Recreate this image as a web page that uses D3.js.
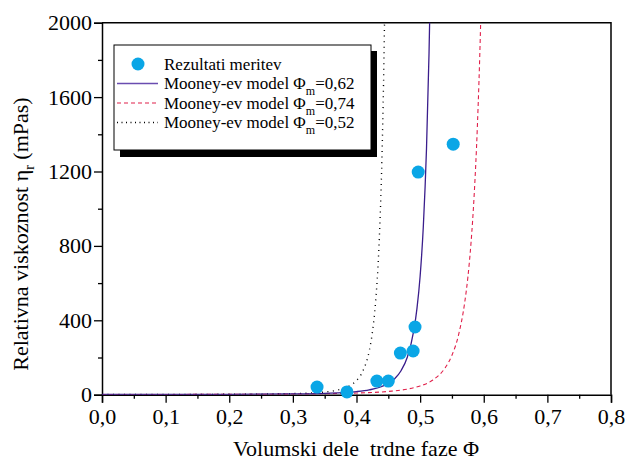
<!DOCTYPE html>
<html>
<head>
<meta charset="utf-8">
<script src="https://cdn.jsdelivr.net/npm/d3@7"></script>
<style>
 body { margin:0; background:#fff; }
</style>
</head>
<body>
<svg id="chart" width="625" height="464"></svg>
<script>
// measured points
var phiMeas = [0.338, 0.385, 0.432, 0.450, 0.469, 0.489, 0.492, 0.497, 0.552];
var etaMeas = [41, 15, 73, 73, 224, 235, 364, 1197, 1347];

// Mooney curves
var phi062 = [0, 0.1, 0.2, 0.3, 0.35, 0.4, 0.42, 0.44, 0.46, 0.47, 0.48, 0.49, 0.495, 0.5, 0.505, 0.51, 0.514, 0.516];
var eta062 = [1, 1.4, 2.1, 4.3, 7.5, 16.7, 26, 44, 86, 129, 203, 344, 463, 637, 903, 1321, 1837, 2188];

var phi074 = [0, 0.1, 0.2, 0.3, 0.35, 0.4, 0.45, 0.48, 0.5, 0.52, 0.54, 0.55, 0.56, 0.57, 0.575, 0.58, 0.585, 0.59, 0.595, 0.597];
var eta074 = [1, 1.3, 2, 3.5, 5.3, 8.8, 17.7, 30, 47, 79, 148, 212, 316, 494, 630, 817, 1077, 1444, 1980, 2265];

var phi052 = [0, 0.1, 0.2, 0.25, 0.3, 0.33, 0.35, 0.37, 0.39, 0.4, 0.41, 0.42, 0.425, 0.43, 0.435, 0.44, 0.4425, 0.445];
var eta052 = [1, 1.4, 2.3, 3.3, 5.9, 9.6, 14.5, 24.7, 49, 76, 127, 235, 336, 498, 774, 1274, 1675, 2240];

var xTicks = [0, 0.1, 0.2, 0.3, 0.4, 0.5, 0.6, 0.7, 0.8];
var xMinor = [0.05, 0.15, 0.25, 0.35, 0.45, 0.55, 0.65, 0.75];
var yTicks = [0, 400, 800, 1200, 1600, 2000];
var yMinor = [200, 600, 1000, 1400, 1800];

var legendLabels = ["Rezultati meritev", "0,62", "0,74", "0,52"];

var FONT = "'Liberation Serif', 'Times New Roman', serif";
var svg = d3.select("#chart").attr("font-family", FONT);
var L = 102, R = 611, T = 22.7, B = 394.7;

var x = d3.scaleLinear().domain([0, 0.8]).range([L, R]);
var y = d3.scaleLinear().domain([0, 2000]).range([B, T]);

svg.append("defs").append("clipPath").attr("id", "clip")
  .append("rect").attr("x", L).attr("y", T).attr("width", R - L).attr("height", B - T);

var fmt = function(d) { return d3.format(".1f")(d).replace(".", ","); };

// axes
var xAx = svg.append("g").attr("transform", "translate(0," + B + ")")
  .call(d3.axisBottom(x).tickValues(xTicks).tickFormat(fmt).tickSize(8).tickPadding(4));
svg.append("g").attr("transform", "translate(0," + B + ")")
  .call(d3.axisBottom(x).tickValues(xMinor).tickFormat("").tickSize(4))
  .select(".domain").remove();
var yAx = svg.append("g").attr("transform", "translate(" + L + ",0)")
  .call(d3.axisLeft(y).tickValues(yTicks).tickFormat(d3.format("d")).tickSize(8).tickPadding(2));
svg.append("g").attr("transform", "translate(" + L + ",0)")
  .call(d3.axisLeft(y).tickValues(yMinor).tickFormat("").tickSize(4))
  .select(".domain").remove();

svg.selectAll("g").attr("font-family", FONT);
svg.selectAll(".tick line").attr("stroke", "#000").attr("stroke-width", 1.3);
svg.selectAll(".domain").attr("stroke", "#000").attr("stroke-width", 1.5);
svg.selectAll(".tick text").style("font-size", "22px").style("font-family", FONT).attr("fill", "#000");
xAx.selectAll(".tick text").attr("dy", "0.8em");

// frame top/right
svg.append("path")
  .attr("d", "M" + L + "," + T + "H" + R + "V" + B)
  .attr("fill", "none").attr("stroke", "#000").attr("stroke-width", 1.5);

// curves
var line = d3.line().x(function(d) { return x(d[0]); }).y(function(d) { return y(d[1]); })
  .curve(d3.curveMonotoneX);
var plot = svg.append("g").attr("clip-path", "url(#clip)");

plot.append("path").datum(d3.zip(phi074, eta074)).attr("d", line)
  .attr("fill", "none").attr("stroke", "#e0204a").attr("stroke-width", 1.1)
  .attr("stroke-dasharray", "4,3");
plot.append("path").datum(d3.zip(phi052, eta052)).attr("d", line)
  .attr("fill", "none").attr("stroke", "#000").attr("stroke-width", 1.4)
  .attr("stroke-dasharray", "1,4.5");
plot.append("path").datum(d3.zip(phi062, eta062)).attr("d", line)
  .attr("fill", "none").attr("stroke", "#3a1d8c").attr("stroke-width", 1.3);

svg.append("g").selectAll("circle")
  .data(d3.zip(phiMeas, etaMeas))
  .enter().append("circle")
  .attr("cx", function(d) { return x(d[0]); })
  .attr("cy", function(d) { return y(d[1]); })
  .attr("r", 6.5)
  .attr("fill", "#0aa6e6");

// legend
var lg = svg.append("g");
lg.append("rect").attr("x", 120).attr("y", 51).attr("width", 257).attr("height", 106).attr("fill", "#000");
lg.append("rect").attr("x", 114).attr("y", 45).attr("width", 257).attr("height", 105)
  .attr("fill", "#fff").attr("stroke", "#000").attr("stroke-width", 1);

var ly = [64, 83.5, 103, 122.5];
lg.append("circle").attr("cx", 138).attr("cy", ly[0]).attr("r", 6.5).attr("fill", "#0aa6e6");
lg.append("line").attr("x1", 117).attr("x2", 158).attr("y1", ly[1]).attr("y2", ly[1])
  .attr("stroke", "#6a4cb0").attr("stroke-width", 1.3);
lg.append("line").attr("x1", 117).attr("x2", 158).attr("y1", ly[2]).attr("y2", ly[2])
  .attr("stroke", "#e0204a").attr("stroke-width", 1.1).attr("stroke-dasharray", "4,3");
lg.append("line").attr("x1", 117).attr("x2", 158).attr("y1", ly[3]).attr("y2", ly[3])
  .attr("stroke", "#000").attr("stroke-width", 1.3).attr("stroke-dasharray", "1,3.5");

legendLabels.forEach(function(lab, i) {
  var t = lg.append("text").attr("x", 164).attr("y", ly[i] + 5.5)
    .style("font-size", "17px").style("font-family", FONT);
  if (i === 0) { t.text(lab); return; }
  t.append("tspan").text("Mooney-ev model \u03A6");
  t.append("tspan").attr("dy", 6).style("font-size", "12px").text("m");
  t.append("tspan").attr("dy", -6).text("=" + lab);
});

// axis titles
svg.append("text").attr("x", 356).attr("y", 456).attr("text-anchor", "middle")
  .style("font-size", "22px").style("font-family", FONT).style("white-space", "pre")
  .text("Volumski dele  trdne faze \u03A6");

var yt = svg.append("text").attr("transform", "translate(28,234) rotate(-90)")
  .attr("text-anchor", "middle").style("font-size", "22px").style("font-family", FONT);
yt.append("tspan").text("Relativna viskoznost \u03B7");
yt.append("tspan").attr("dy", 6).style("font-size", "14px").text("r");
yt.append("tspan").attr("dy", -6).text(" (mPas)");
</script>
</body>
</html>
